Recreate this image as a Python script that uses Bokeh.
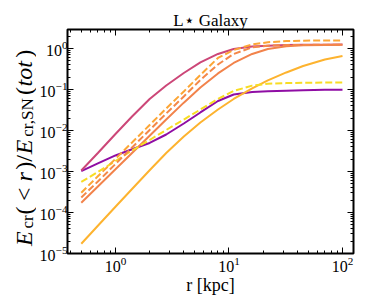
import numpy as np
from bokeh.plotting import figure
from bokeh.models import LogAxis, FixedTicker, Label, Range1d
from bokeh.layouts import row
from bokeh.embed import file_html
from bokeh.resources import INLINE

# ---------------- data ----------------
r_kpc = [0.5, 0.7, 1, 1.4, 2, 2.8, 4, 5.6, 8, 11, 16, 22, 32, 45, 70, 100]
purple_solid = [1.02e-3, 1.57e-3, 2.46e-3, 3.48e-3, 4.96e-3, 7.98e-3, 0.0148, 0.0275, 0.0524,
                0.0755, 0.0869, 0.0909, 0.0935, 0.0956, 0.0978, 0.0989]
pink_solid = [1.06e-3, 2.83e-3, 8.22e-3, 0.0219, 0.0587, 0.125, 0.252, 0.456, 0.734,
              0.972, 1.12, 1.17, 1.21, 1.23, 1.24, 1.25]
coral_solid = [1.73e-4, 4.31e-4, 1.13e-3, 2.83e-3, 7.47e-3, 0.0185, 0.0477, 0.112, 0.246,
               0.443, 0.734, 0.972, 1.13, 1.20, 1.22, 1.23]
orange_solid = [1.73e-5, 4.74e-5, 1.38e-4, 3.74e-4, 1.07e-3, 2.83e-3, 7.14e-3, 0.0157, 0.0325,
                0.0587, 0.106, 0.166, 0.260, 0.374, 0.539, 0.656]
yellow_dashed = [5.55e-4, 9.72e-4, 1.80e-3, 3.25e-3, 5.86e-3, 0.0103, 0.0185, 0.0325, 0.0587,
                 0.0919, 0.124, 0.138, 0.143, 0.146, 0.147, 0.148]
orange_dashed = [3.04e-4, 7.64e-4, 2.03e-3, 5.09e-3, 0.0136, 0.0344, 0.0893, 0.226, 0.586,
                 0.918, 1.25, 1.42, 1.51, 1.55, 1.57, 1.57]
coral_dashed = [2.32e-4, 5.70e-4, 1.52e-3, 3.85e-3, 0.0103, 0.0260, 0.0675, 0.171, 0.407,
                0.734, 1.06, 1.17, 1.21, 1.22, 1.23, 1.23]

x_major = [1, 10, 100]
y_major = [1e-5, 1e-4, 1e-3, 1e-2, 1e-1, 1]

series = [
    (purple_solid, "#8f0da4", None),
    (pink_solid, "#cc4778", None),
    (coral_solid, "#f2834b", None),
    (orange_solid, "#fdb32f", None),
    (yellow_dashed, "#f7dc24", "7 3"),
    (orange_dashed, "#fca636", "7 3"),
    (coral_dashed, "#f48849", "7 3"),
]

# ---------------- layout ----------------
H = 298
LW = 36                     # width of the strip holding the y label
MW = 336                    # width of the main figure
FL, FR, FT, FB = 67, 353, 29, 253          # frame edges in page pixels
XLO, XHI = 0.378, 125.0
YLO, YHI = 1e-5, 2.9
SERIF = "Liberation Serif"

p = figure(width=MW, height=H, x_axis_type="log", y_axis_type="log",
           x_range=Range1d(XLO, XHI), y_range=Range1d(YLO, YHI),
           output_backend="svg", toolbar_location=None,
           min_border_left=FL - LW, min_border_right=(LW + MW) - FR,
           min_border_top=FT, min_border_bottom=H - FB)
p.background_fill_color = "white"
p.border_fill_color = "white"
p.outline_line_color = "black"
p.outline_line_width = 2
p.xgrid.grid_line_color = None
p.ygrid.grid_line_color = None

p.title.text = "L\u22c6 Galaxy"
p.title.align = "center"
p.title.text_font = SERIF
p.title.text_font_size = "17px"
p.title.text_font_style = "normal"
p.title.text_color = "black"
p.title.standoff = 0

for vals, col, dash in series:
    if dash:
        p.line(r_kpc, vals, line_color=col, line_width=2, line_dash=dash)
    else:
        p.line(r_kpc, vals, line_color=col, line_width=2)

def minors(lo, hi):
    out = []
    for e in range(-6, 4):
        for m in range(2, 10):
            v = m * 10.0 ** e
            if lo < v < hi:
                out.append(v)
    return out

def style(ax, show):
    ax.axis_line_color = None
    ax.major_tick_in = 6
    ax.major_tick_out = 0
    ax.minor_tick_in = 3
    ax.minor_tick_out = 0
    ax.major_tick_line_color = "black"
    ax.minor_tick_line_color = "black"
    ax.major_tick_line_width = 1
    ax.minor_tick_line_width = 1
    if show:
        ax.major_label_text_font = SERIF
        ax.major_label_text_font_size = "16px"
        ax.major_label_text_color = "black"
        ax.major_label_standoff = 0
    else:
        ax.major_label_text_font_size = "1px"
        ax.major_label_text_color = None
        ax.major_label_standoff = 0

p.xaxis[0].ticker = FixedTicker(ticks=x_major, minor_ticks=minors(XLO, XHI))
p.yaxis[0].ticker = FixedTicker(ticks=y_major, minor_ticks=minors(YLO, YHI))
style(p.xaxis[0], True)
style(p.yaxis[0], True)
p.xaxis[0].major_label_standoff = 3
p.xaxis[0].axis_label = "r [kpc]"
p.xaxis[0].axis_label_text_font = SERIF
p.xaxis[0].axis_label_text_font_size = "18px"
p.xaxis[0].axis_label_text_font_style = "normal"
p.xaxis[0].axis_label_text_color = "black"
p.xaxis[0].axis_label_standoff = 0

top = LogAxis(ticker=FixedTicker(ticks=x_major, minor_ticks=minors(XLO, XHI)))
right = LogAxis(ticker=FixedTicker(ticks=y_major, minor_ticks=minors(YLO, YHI)))
style(top, False)
style(right, False)
p.add_layout(top, "above")
p.add_layout(right, "right")

# ---------------- y label strip (rotated text, built from pieces) ----------------
# its frame spans the same rows as the main frame; data y == page pixel row
q = figure(width=LW, height=H, x_range=Range1d(0, LW), y_range=Range1d(FB, FT),
           output_backend="svg", toolbar_location=None,
           x_axis_location=None, y_axis_location=None,
           min_border_left=0, min_border_right=0, min_border_top=FT, min_border_bottom=H - FB)
q.title.visible = False
q.outline_line_color = None
q.xgrid.grid_line_color = None
q.ygrid.grid_line_color = None
q.background_fill_color = "white"
q.border_fill_color = "white"

REG = {'(': .333, ')': .333, '<': .564, '/': .278, 'c': .444, 'r': .333, ',': .25,
       'S': .556, 'N': .722, 'E': .611}
ITA = {'E': .611, 'r': .389, 't': .278, 'o': .5}

def width(txt, st, size):
    tab = ITA if st == "italic" else REG
    return sum(tab.get(ch, .5) for ch in txt) * size + (1.5 if st == "italic" else 0)

M, S = 24, 17
SUB = 4
SPREAD = 1.07
ypieces = [("E", "italic", M, 0, 0), ("cr", "normal", S, SUB, 0), ("(", "normal", M, 0, 0),
           ("<", "normal", M, 0, 5), ("r", "italic", M, 0, 5), (")/", "normal", M, 0, 0),
           ("E", "italic", M, 0, 0), ("cr,SN", "normal", S, SUB, 0), ("(", "normal", M, 0, 0),
           ("tot", "italic", M, 0, 0), (")", "normal", M, 0, 0)]
total = sum(width(t, s, z) * SPREAD + g for t, s, z, sh, g in ypieces)
ypos = 147 + total / 2
base_x = 23
for t, s, z, sh, g in ypieces:
    ypos -= g
    q.add_layout(Label(x=base_x + sh, y=ypos, x_units="data", y_units="data", text=t,
                       text_font=SERIF, text_font_size=f"{z}px", text_font_style=s,
                       text_color="black", text_align="left", text_baseline="alphabetic",
                       angle=np.pi / 2))
    ypos -= width(t, s, z) * SPREAD

layout = row(q, p)
open("out.html", "w").write(file_html(layout, INLINE))
